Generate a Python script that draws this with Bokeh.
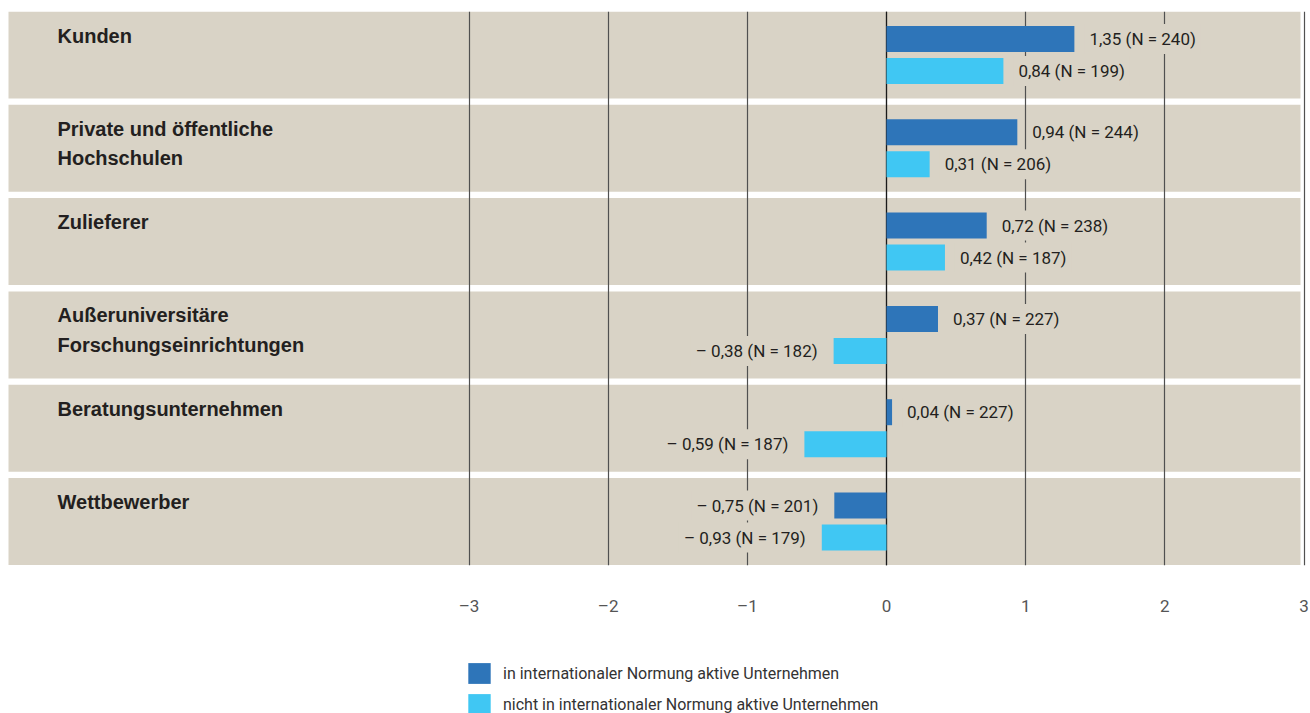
from bokeh.plotting import figure
from bokeh.layouts import column
from bokeh.models import Label, Range1d, FixedTicker, Legend, LegendItem, Span
from bokeh.core.properties import value
from bokeh.embed import file_html
from bokeh.resources import INLINE

# ---------------- data ----------------
categories = ["Kunden", "Private und öffentliche\nHochschulen", "Zulieferer",
              "Außeruniversitäre\nForschungseinrichtungen", "Beratungsunternehmen", "Wettbewerber"]
series_names = ["in internationaler Normung aktive Unternehmen",
                "nicht in internationaler Normung aktive Unternehmen"]
active_values = [1.35, 0.94, 0.72, 0.37, 0.04, -0.75]
active_n = [240, 244, 238, 227, 227, 201]
inactive_values = [0.84, 0.31, 0.42, -0.38, -0.59, -0.93]
inactive_n = [199, 206, 187, 182, 187, 179]
# bar lengths as drawn in the source graphic (the Wettbewerber bars are drawn shorter than their labels)
active_bar_lengths = [1.35, 0.94, 0.72, 0.37, 0.04, -0.375]
inactive_bar_lengths = [0.84, 0.31, 0.42, -0.38, -0.59, -0.465]
x_ticks = [-3, -2, -1, 0, 1, 2, 3]
x_tick_labels = ["–3", "–2", "–1", "0", "1", "2", "3"]

# ---------------- style ----------------
PANEL = "#d9d3c6"
C_ACTIVE = "#2e75b9"
C_INACTIVE = "#40c7f3"
TXT = "#231f20"
NARROW = "Roboto"

PX = 835 / 6.0          # pixels per unit on x
ROW = 93.3              # pixels per row
W, H = 1310, 713
TOP, BOTTOM = 11, 565
H1 = 640                # main figure height
H2 = H - H1             # legend strip height

x_start = -886 / PX
x_end = (W - 886) / PX
y_top = (TOP - 54.5) / ROW
y_bottom = (BOTTOM - 54.5) / ROW

p = figure(width=W, height=H1, x_range=Range1d(x_start, x_end), y_range=Range1d(y_bottom, y_top),
           output_backend="svg", toolbar_location=None, y_axis_location=None,
           min_border_left=0, min_border_right=0, min_border_top=TOP, min_border_bottom=H1 - BOTTOM)
p.outline_line_color = None
p.background_fill_color = "white"
p.border_fill_color = "white"

idx = list(range(len(categories)))

# panels
half = 87 / ROW / 2
p.quad(left=(8 - 886) / PX, right=(1300 - 886) / PX,
       top=[i - half for i in idx], bottom=[i + half for i in idx],
       fill_color=PANEL, line_color=None, level="image")

# grid
p.ygrid.visible = False
p.xgrid.ticker = FixedTicker(ticks=x_ticks)
p.xgrid.grid_line_color = "#505050"
p.xgrid.grid_line_width = 1.2
zero = Span(location=0, dimension="height", line_color="#1a1a1a", line_width=1.2, level="underlay")
p.add_layout(zero)

# bars
off = 16 / ROW
bh = 26 / ROW
ya = [i - off for i in idx]
yi = [i + off for i in idx]

p.hbar(y=ya, left=0, right=active_bar_lengths, height=bh, fill_color=C_ACTIVE, line_color=None)
p.hbar(y=yi, left=0, right=inactive_bar_lengths, height=bh, fill_color=C_INACTIVE, line_color=None)


def fmt(v, n):
    s = f"{abs(v):.2f}".replace(".", ",")
    return ("– " if v < 0 else "") + s + f" (N = {n})"


has_pad = "padding" in Label.properties()
PAD = 5 if has_pad else 0
for ys, bars, vals, ns in ((ya, active_bar_lengths, active_values, active_n),
                           (yi, inactive_bar_lengths, inactive_values, inactive_n)):
    for y, b, v, n in zip(ys, bars, vals, ns):
        kw = dict(padding=PAD) if has_pad else {}
        lab = Label(x=b, y=y, text=fmt(v, n),
                    x_offset=(15 - PAD) if b >= 0 else -(16 - PAD),
                    text_align="left" if b >= 0 else "right", text_baseline="middle",
                    text_font=NARROW, text_font_size="17px", text_color=TXT,
                    background_fill_color=PANEL, background_fill_alpha=1.0, **kw)
        p.add_layout(lab)

# category labels
p.text(x=(57 - 886) / PX, y=[i - 30.5 / ROW for i in idx], text=categories,
       text_font=value("Liberation Sans"), text_font_style="bold", text_font_size="20px",
       text_color=TXT, text_baseline="top", text_align="left", text_line_height=1.34)

# x axis
ax = p.xaxis[0]
ax.ticker = FixedTicker(ticks=x_ticks)
ax.major_label_overrides = {t: l for t, l in zip(x_ticks, x_tick_labels)}
ax.axis_line_color = None
ax.major_tick_line_color = None
ax.minor_tick_line_color = None
ax.major_tick_out = 0
ax.major_tick_in = 0
ax.major_label_standoff = 30
ax.major_label_text_font = NARROW
ax.major_label_text_font_size = "17px"
ax.major_label_text_color = "#555555"

# legend strip
p2 = figure(width=W, height=H2, x_range=Range1d(0, 1), y_range=Range1d(0, 1),
            output_backend="svg", toolbar_location=None, x_axis_location=None, y_axis_location=None,
            min_border_left=0, min_border_right=0, min_border_top=0, min_border_bottom=0)
p2.outline_line_color = None
p2.background_fill_color = "white"
p2.border_fill_color = "white"
p2.xgrid.visible = False
p2.ygrid.visible = False
# off-screen swatches that carry the series colours for the legend
la = p2.hbar(y=[50], left=[50], right=[51], height=1, fill_color=C_ACTIVE, line_color=None)
li = p2.hbar(y=[50], left=[50], right=[51], height=1, fill_color=C_INACTIVE, line_color=None)
GW, GH = 28, 26      # legend glyph box (bar swatch is drawn at 80 % of it)
legend = Legend(items=[LegendItem(label=series_names[0], renderers=[la]),
                       LegendItem(label=series_names[1], renderers=[li])],
                location=(465, H2 - 20 - (2 * GH + 5)), orientation="vertical",
                glyph_width=GW, glyph_height=GH, label_standoff=10, spacing=5,
                padding=0, margin=0, border_line_color=None, background_fill_alpha=0,
                label_text_font=NARROW, label_text_font_size="16px", label_text_color="#333333",
                label_height=GH)
p2.add_layout(legend)

layout = column(p, p2, spacing=0)
open("out.html", "w").write(file_html(layout, INLINE))
